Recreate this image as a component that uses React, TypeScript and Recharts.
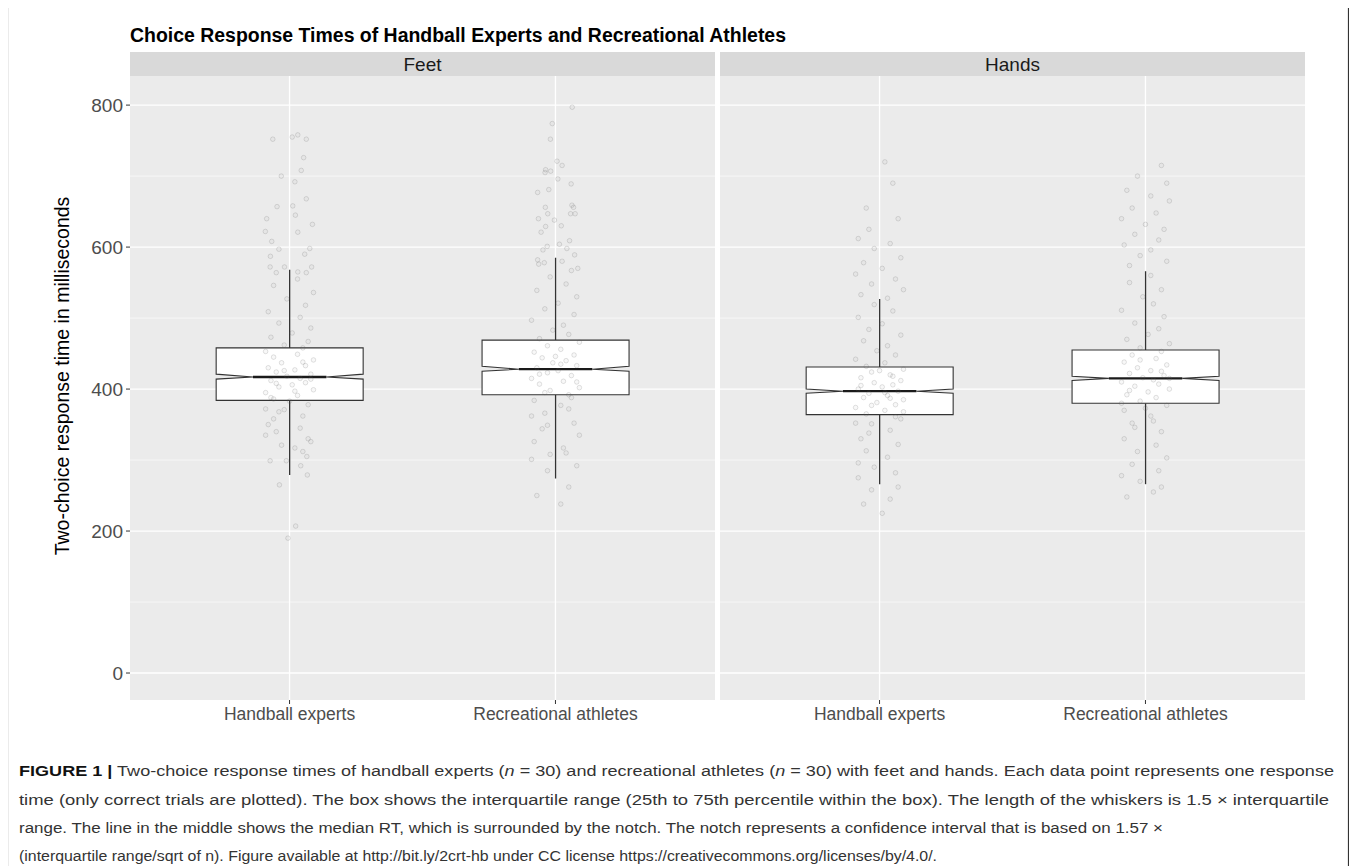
import React from 'react';
import { ComposedChart, Bar, Scatter, XAxis, YAxis, CartesianGrid } from 'recharts';

const FONT = '"Liberation Sans", Arial, Helvetica, sans-serif';

const panels = ['Feet', 'Hands'];
const groups = ['Handball experts', 'Recreational athletes'];
const yTicks = [0, 200, 400, 600, 800];
const yMinor = [100, 300, 500, 700];
const xTicks = [1, 2];

const feetBoxes = [
  { group: 'Handball experts', whiskerLow: 279, q1: 384, notchLow: 414, median: 417, notchHigh: 421, q3: 458, whiskerHigh: 568 },
  { group: 'Recreational athletes', whiskerLow: 274, q1: 392, notchLow: 425, median: 428, notchHigh: 432, q3: 469, whiskerHigh: 585 },
];
const handsBoxes = [
  { group: 'Handball experts', whiskerLow: 266, q1: 364, notchLow: 394, median: 397, notchHigh: 400, q3: 431, whiskerHigh: 527 },
  { group: 'Recreational athletes', whiskerLow: 266, q1: 380, notchLow: 412, median: 415, notchHigh: 418, q3: 455, whiskerHigh: 566 },
];

// [jitter (category units), response time ms]
const feetExpertsPoints: [number, number][] = [
  [-0.08, 350], [0.05, 362], [-0.02, 371], [0.07, 378], [-0.06, 386], [0.03, 391], [-0.09, 395], [0.09, 399], [-0.04, 403], [0.01, 406],
  [0.06, 409], [-0.07, 412], [0.04, 415], [-0.01, 418], [0.08, 421], [-0.05, 424], [0.02, 427], [-0.08, 430], [0.06, 433], [-0.03, 437],
  [0.09, 441], [-0.06, 445], [0.03, 449], [-0.09, 453], [0.05, 458], [-0.02, 462], [0.07, 467], [-0.07, 473], [0.01, 479], [0.08, 486],
  [-0.04, 493], [0.04, 501], [-0.08, 509], [0.06, 518], [-0.01, 527], [0.09, 536], [-0.06, 546], [0.03, 555], [-0.05, 340], [0.07, 330],
  [-0.03, 321], [0.05, 312], [-0.07, 388], [0.02, 397], [-0.05, 408], [0.08, 414], [-0.02, 426], [0.05, 438], [-0.09, 372], [0.0, 383],
  [-0.06, 358], [0.04, 345], [-0.09, 335], [0.08, 326], [0.02, 317], [-0.04, 368],
  [-0.063, 752], [0.01, 755], [0.031, 758], [0.063, 752], [0.053, 726], [0.044, 708], [-0.031, 700], [0.02, 692], [0.063, 668], [-0.047, 657],
  [0.012, 658], [0.022, 645], [-0.086, 640], [0.086, 632], [-0.091, 622], [0.031, 621], [-0.067, 608], [-0.04, 597], [0.076, 598], [-0.072, 587],
  [0.057, 590], [-0.019, 572], [-0.073, 572], [0.083, 572], [0.031, 565], [-0.05, 564], [0.063, 564],
  [-0.038, 265], [0.023, 207], [-0.006, 190], [0.067, 279], [0.042, 292], [0.065, 305], [-0.073, 299], [-0.012, 299],
];
const feetRecreationalPoints: [number, number][] = [
  [0.07, 352], [-0.04, 366], [0.02, 377], [-0.08, 384], [0.05, 392], [-0.02, 398], [0.09, 402], [-0.06, 407], [0.03, 411], [-0.09, 415],
  [0.06, 419], [-0.03, 423], [0.01, 426], [-0.07, 430], [0.08, 433], [-0.01, 437], [0.04, 440], [-0.05, 444], [0.07, 448], [-0.08, 452],
  [0.02, 456], [-0.03, 461], [0.09, 466], [-0.06, 471], [0.05, 477], [-0.01, 483], [0.03, 490], [-0.09, 497], [0.07, 505], [-0.04, 513],
  [0.01, 521], [0.08, 530], [-0.07, 539], [0.04, 548], [-0.02, 558], [0.06, 567], [-0.05, 344], [0.09, 335], [-0.08, 326], [0.03, 317],
  [-0.02, 308], [0.06, 388], [-0.04, 395], [0.08, 410], [-0.06, 421], [0.02, 435], [-0.09, 362], [0.05, 372], [0.0, 446], [-0.03, 349],
  [0.063, 797], [-0.012, 774], [-0.019, 752], [0.006, 721], [0.025, 715], [-0.037, 709], [-0.039, 705], [-0.018, 707], [0.009, 696], [-0.025, 681],
  [0.059, 689], [-0.067, 677], [0.062, 659], [0.068, 656], [-0.038, 656], [-0.029, 647], [0.074, 647], [0.057, 647], [-0.064, 640], [-0.004, 638],
  [0.022, 630], [-0.037, 629], [-0.054, 621], [0.015, 604], [0.053, 609], [-0.031, 601], [-0.047, 596], [0.043, 598], [0.072, 589], [-0.067, 582],
  [0.025, 580], [-0.042, 578], [0.084, 570], [-0.063, 576],
  [0.05, 262], [-0.07, 250], [0.02, 238], [-0.03, 285], [0.08, 292], [-0.09, 301], [0.04, 310],
];
const handsExpertsPoints: [number, number][] = [
  [-0.07, 330], [0.04, 342], [-0.03, 351], [0.08, 358], [-0.05, 365], [0.02, 370], [-0.09, 374], [0.06, 378], [-0.01, 381], [0.09, 385],
  [-0.06, 388], [0.03, 391], [-0.04, 394], [0.07, 397], [-0.08, 400], [0.01, 403], [0.05, 406], [-0.02, 409], [0.08, 412], [-0.07, 416],
  [0.04, 420], [-0.03, 424], [0.09, 428], [-0.05, 432], [0.02, 437], [-0.09, 442], [0.06, 448], [-0.01, 454], [0.03, 461], [-0.06, 468],
  [0.08, 476], [-0.04, 484], [0.01, 492], [-0.08, 501], [0.05, 510], [-0.02, 519], [0.07, 322], [-0.05, 313], [0.03, 304], [-0.08, 296],
  [0.06, 361], [-0.03, 377], [0.02, 395], [-0.07, 405], [0.05, 418], [-0.09, 352], [0.09, 368], [0.0, 426], [-0.04, 338], [0.04, 387],
  [0.02, 720], [-0.05, 655], [0.07, 640], [-0.08, 612], [0.04, 605], [-0.02, 598], [0.08, 585], [-0.06, 578], [0.01, 570], [-0.09, 562],
  [0.06, 555], [-0.03, 548], [0.09, 540], [-0.07, 533], [0.03, 528], [0.05, 690], [-0.04, 625],
  [0.04, 245], [-0.06, 238], [0.01, 225], [-0.03, 258], [0.07, 262], [-0.08, 275], [0.06, 282], [-0.02, 290],
];
const handsRecreationalPoints: [number, number][] = [
  [0.06, 340], [-0.05, 352], [0.02, 362], [-0.08, 370], [0.08, 377], [-0.02, 383], [0.04, 388], [-0.07, 392], [0.01, 396], [0.09, 400],
  [-0.04, 404], [0.05, 407], [-0.09, 410], [0.03, 413], [-0.01, 416], [0.07, 419], [-0.06, 422], [0.02, 426], [-0.03, 430], [0.08, 434],
  [-0.08, 438], [0.04, 443], [-0.05, 448], [0.06, 453], [-0.02, 458], [0.09, 464], [-0.07, 470], [0.01, 477], [0.05, 485], [-0.04, 493],
  [0.07, 502], [-0.09, 511], [0.03, 520], [-0.01, 530], [0.06, 540], [-0.06, 550], [0.02, 560], [-0.08, 330], [0.04, 321], [-0.03, 312],
  [0.08, 303], [-0.05, 294], [0.0, 373], [-0.06, 398], [0.06, 425], [-0.02, 441], [0.03, 355], [-0.09, 380], [0.09, 415], [-0.04, 346],
  [0.06, 715], [-0.03, 700], [0.08, 690], [-0.07, 680], [0.02, 672], [0.09, 665], [-0.05, 655], [0.04, 648], [-0.09, 640], [0.0, 632],
  [0.07, 625], [-0.04, 618], [0.05, 610], [-0.08, 603], [0.02, 596], [-0.02, 588], [0.08, 580], [-0.06, 574],
  [0.03, 255], [-0.07, 248], [0.06, 262], [-0.02, 270], [-0.09, 278], [0.05, 285],
];

const toScatter = (pts: [number, number][], groupIndex: number) =>
  pts.map(([j, v]) => ({ x: groupIndex + 1 + j, y: v }));

const feetScatter = [...toScatter(feetExpertsPoints, 0), ...toScatter(feetRecreationalPoints, 1)];
const handsScatter = [...toScatter(handsExpertsPoints, 0), ...toScatter(handsRecreationalPoints, 1)];

const makeBoxShape = (boxes: any[]) => (props: any) => {
  const { x, y, width, height, index } = props;
  const d = props.payload && props.payload.q1 !== undefined ? props.payload : boxes[index];
  const top = Math.min(y, y + height);
  const h = Math.abs(height);
  const lo = d.whiskerLow;
  const hi = d.whiskerHigh;
  const py = (v: number) => top + ((hi - v) / (hi - lo)) * h;
  const x0 = x;
  const x1 = x + width;
  const cx = x + width / 2;
  const nx0 = cx - width / 4;
  const nx1 = cx + width / 4;
  const pts = [
    [x0, py(d.q3)], [x1, py(d.q3)], [x1, py(d.notchHigh)], [nx1, py(d.median)], [x1, py(d.notchLow)],
    [x1, py(d.q1)], [x0, py(d.q1)], [x0, py(d.notchLow)], [nx0, py(d.median)], [x0, py(d.notchHigh)],
  ].map((p) => p.join(',')).join(' ');
  return (
    <g>
      <line x1={cx} x2={cx} y1={py(d.whiskerHigh)} y2={py(d.q3)} stroke="#333333" strokeWidth={1.3} />
      <line x1={cx} x2={cx} y1={py(d.q1)} y2={py(d.whiskerLow)} stroke="#333333" strokeWidth={1.3} />
      <polygon points={pts} fill="#FFFFFF" stroke="#333333" strokeWidth={1.1} />
      <line x1={nx0} x2={nx1} y1={py(d.median)} y2={py(d.median)} stroke="#1a1a1a" strokeWidth={2.3} />
    </g>
  );
};

const DotShape = (props: any) => {
  const { cx, cy } = props;
  if (cx == null || cy == null) return null;
  return <circle cx={cx} cy={cy} r={2.3} fill="#888888" fillOpacity={0.06} stroke="#555555" strokeOpacity={0.22} strokeWidth={0.8} />;
};

const yTickStyle = { fill: '#4D4D4D', fontSize: 19, fontFamily: FONT };
const xTickStyle = { fill: '#4D4D4D', fontSize: 17.5, fontFamily: FONT };

function Panel({ boxes, scatter, showY }: { boxes: any[]; scatter: any[]; showY: boolean }) {
  return (
    <ComposedChart
      width={showY ? 715 : 585}
      height={690}
      data={boxes}
      margin={{ top: 0, right: 0, bottom: 0, left: 0 }}
      barCategoryGap="22.4%"
    >
      <CartesianGrid xAxisId="num" fill="#EBEBEB" stroke="#FFFFFF" strokeWidth={0.6} vertical={false} horizontalValues={yMinor} />
      <CartesianGrid xAxisId="num" stroke="#FFFFFF" strokeWidth={1.3} horizontalValues={yTicks} verticalValues={xTicks} />
      <XAxis xAxisId="cat" dataKey="group" type="category" orientation="top" hide padding={{ left: 26.6, right: 26.6 }} />
      <XAxis
        xAxisId="num"
        dataKey="x"
        type="number"
        domain={[0.4, 2.6]}
        ticks={xTicks}
        interval={0}
        allowDataOverflow
        tickFormatter={(v: number) => groups[v - 1]}
        axisLine={false}
        tickLine={{ stroke: '#333333' }}
        tickSize={4}
        tickMargin={4}
        height={66}
        tick={xTickStyle}
      />
      <YAxis
        dataKey="y"
        type="number"
        domain={[-38, 841]}
        ticks={yTicks}
        interval={0}
        allowDataOverflow
        hide={!showY}
        width={130}
        axisLine={false}
        tickLine={{ stroke: '#333333' }}
        tickSize={4}
        tickMargin={3}
        tick={yTickStyle}
      />
      <Bar xAxisId="cat" dataKey={(d: any) => [d.whiskerLow, d.whiskerHigh]} shape={makeBoxShape(boxes)} isAnimationActive={false} />
      <Scatter xAxisId="num" data={scatter} dataKey="y" shape={DotShape} isAnimationActive={false} />
    </ComposedChart>
  );
}

export default function App() {
  return (
    <div style={{ position: 'relative', width: 1357, height: 866, margin: '-8px 0 0 -8px', background: '#FFFFFF', fontFamily: FONT }}>
      <svg width={1357} height={866} style={{ position: 'absolute', left: 0, top: 0 }}>
        <line x1={7.5} x2={7.5} y1={0} y2={866} stroke="#333333" strokeWidth={1.2} />
        <line x1={1348.5} x2={1348.5} y1={0} y2={866} stroke="#333333" strokeWidth={1.2} />
        <text x={130} y={41.5} fontSize={19.5} fontWeight="bold" fill="#000000" fontFamily={FONT} textLength={656} lengthAdjust="spacingAndGlyphs">
          Choice Response Times of Handball Experts and Recreational Athletes
        </text>
        <rect x={130} y={52} width={585} height={24} fill="#D9D9D9" />
        <rect x={720} y={52} width={585} height={24} fill="#D9D9D9" />
        <text x={422.5} y={71} fontSize={19} textAnchor="middle" fill="#1A1A1A" fontFamily={FONT}>{panels[0]}</text>
        <text x={1012.5} y={71} fontSize={19} textAnchor="middle" fill="#1A1A1A" fontFamily={FONT}>{panels[1]}</text>
        <text transform="translate(69,376) rotate(-90)" fontSize={19.5} textAnchor="middle" fill="#000000" fontFamily={FONT}>
          Two-choice response time in milliseconds
        </text>
        <g fontSize={15.5} fill="#333333" fontFamily={FONT}>
          <text x={19} y={776} textLength={1315} lengthAdjust="spacingAndGlyphs">
            <tspan fontWeight="bold" fill="#111111">FIGURE 1 |</tspan>
            {' Two-choice response times of handball experts ('}
            <tspan fontStyle="italic">n</tspan>
            {' = 30) and recreational athletes ('}
            <tspan fontStyle="italic">n</tspan>
            {' = 30) with feet and hands. Each data point represents one response'}
          </text>
          <text x={19} y={804.5} textLength={1310} lengthAdjust="spacingAndGlyphs">
            time (only correct trials are plotted). The box shows the interquartile range (25th to 75th percentile within the box). The length of the whiskers is 1.5 × interquartile
          </text>
          <text x={19} y={833} textLength={1144} lengthAdjust="spacingAndGlyphs">
            range. The line in the middle shows the median RT, which is surrounded by the notch. The notch represents a confidence interval that is based on 1.57 ×
          </text>
          <text x={19} y={861} textLength={918} lengthAdjust="spacingAndGlyphs">
            (interquartile range/sqrt of n). Figure available at http://bit.ly/2crt-hb under CC license https://creativecommons.org/licenses/by/4.0/.
          </text>
        </g>
      </svg>
      <div style={{ position: 'absolute', left: 0, top: 76 }}>
        <Panel boxes={feetBoxes} scatter={feetScatter} showY={true} />
      </div>
      <div style={{ position: 'absolute', left: 720, top: 76 }}>
        <Panel boxes={handsBoxes} scatter={handsScatter} showY={false} />
      </div>
    </div>
  );
}
